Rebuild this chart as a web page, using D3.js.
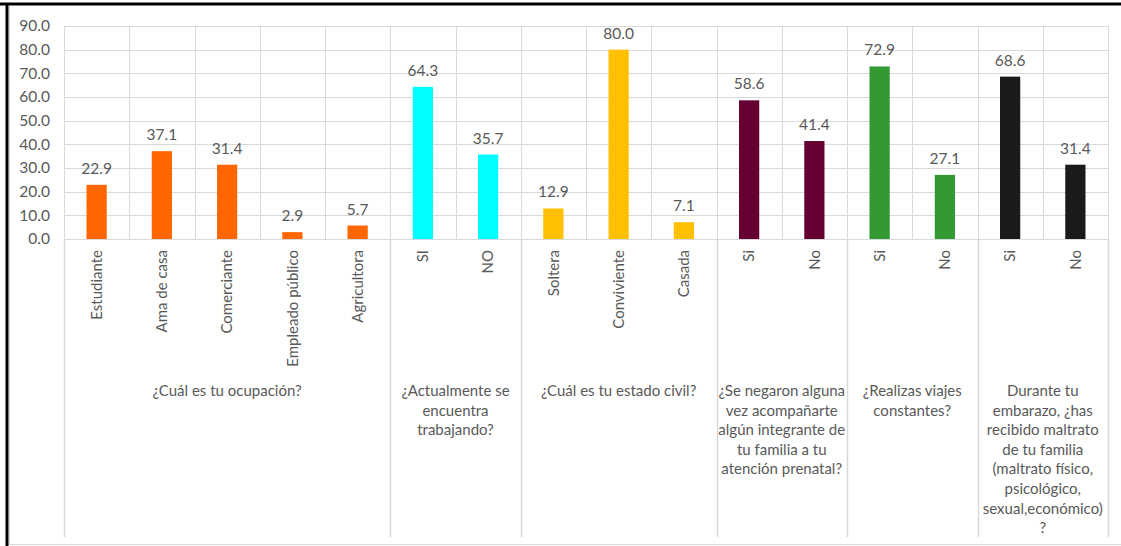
<!DOCTYPE html>
<html>
<head>
<meta charset="utf-8">
<script src="https://cdn.jsdelivr.net/npm/d3@7"></script>
<style>
  html, body { margin: 0; padding: 0; background: #fff; }
  svg { display: block; }
  text { font-family: Lato, "Open Sans", sans-serif; fill: #595959; }
</style>
</head>
<body>
<svg id="chart" width="1121" height="546"></svg>
<script>
// Survey answers (percent of respondents)
const categories = ["Estudiante", "Ama de casa", "Comerciante", "Empleado público", "Agricultora",
                    "SI", "NO",
                    "Soltera", "Conviviente", "Casada",
                    "Si", "No",
                    "Si", "No",
                    "Si", "No"];
const values = [22.9, 37.1, 31.4, 2.9, 5.7,
                64.3, 35.7,
                12.9, 80.0, 7.1,
                58.6, 41.4,
                72.9, 27.1,
                68.6, 31.4];

// Questions: each one covers a run of consecutive categories
const groupSizes = [5, 2, 3, 2, 2, 2];
const groupLabels = [
  ["¿Cuál es tu ocupación?"],
  ["¿Actualmente se", "encuentra", "trabajando?"],
  ["¿Cuál es tu estado civil?"],
  ["¿Se negaron alguna", "vez acompañarte", "algún integrante de", "tu familia a tu", "atención prenatal?"],
  ["¿Realizas viajes", "constantes?"],
  ["Durante tu", "embarazo, ¿has", "recibido maltrato", "de tu familia", "(maltrato físico,", "psicológico,", "sexual,económico)", "?"]
];
const groupColors = ["#FF6600", "#00FFFF", "#FFC000", "#660033", "#339933", "#1A1A1A"];

const yTicks = [0, 10, 20, 30, 40, 50, 60, 70, 80, 90];

const svg = d3.select("#chart");
const W = 1121, H = 546;
const plot = { left: 64, right: 1108, top: 26, bottom: 239 };
const gridColor = "#d9d9d9";

// frame
svg.append("line").attr("x1", 0).attr("x2", W).attr("y1", 4).attr("y2", 4)
  .attr("stroke", "#000").attr("stroke-width", 3);
svg.append("line").attr("x1", 7).attr("x2", 7).attr("y1", 3).attr("y2", H)
  .attr("stroke", "#000").attr("stroke-width", 3);
svg.append("line").attr("x1", 9.5).attr("x2", 9.5).attr("y1", 6).attr("y2", 544.5)
  .attr("stroke", gridColor).attr("stroke-width", 1);
svg.append("line").attr("x1", 9).attr("x2", W).attr("y1", 544.5).attr("y2", 544.5)
  .attr("stroke", gridColor).attr("stroke-width", 1);

// scales
const x = d3.scaleBand().domain(d3.range(categories.length))
  .range([plot.left, plot.right]).padding(0);
const y = d3.scaleLinear().domain([0, 90]).range([plot.bottom, plot.top]);
const barW = x.bandwidth() * 0.31;

// category -> group index
const groupOf = [];
groupSizes.forEach((n, g) => { for (let i = 0; i < n; i++) groupOf.push(g); });
const groupStarts = groupSizes.map((n, g) => d3.sum(groupSizes.slice(0, g)));

// horizontal gridlines
svg.append("g").selectAll("line").data(yTicks).join("line")
  .attr("x1", plot.left).attr("x2", plot.right)
  .attr("y1", d => Math.round(y(d)) + 0.5).attr("y2", d => Math.round(y(d)) + 0.5)
  .attr("stroke", gridColor).attr("stroke-width", 1);

// vertical gridlines at every category boundary inside the plot
const bounds = d3.range(categories.length + 1).map(i =>
  i < categories.length ? x(i) : plot.right);
svg.append("g").selectAll("line").data(bounds).join("line")
  .attr("x1", d => Math.round(d) + 0.5).attr("x2", d => Math.round(d) + 0.5)
  .attr("y1", plot.top).attr("y2", plot.bottom)
  .attr("stroke", gridColor).attr("stroke-width", 1);

// question separators run down through the label area
const groupBounds = groupStarts.map(s => x(s)).concat([plot.right]);
svg.append("g").selectAll("line").data(groupBounds).join("line")
  .attr("x1", d => Math.round(d) + 0.5).attr("x2", d => Math.round(d) + 0.5)
  .attr("y1", plot.bottom).attr("y2", 537)
  .attr("stroke", gridColor).attr("stroke-width", 1.5);

// y axis labels
const yAxis = d3.axisLeft(y).tickValues(yTicks).tickFormat(d3.format(".1f"))
  .tickSize(0).tickPadding(14);
const yg = svg.append("g").attr("transform", `translate(${plot.left},0)`).call(yAxis);
yg.select(".domain").remove();
yg.selectAll("text").attr("font-size", 15.5).attr("fill", "#595959")
  .attr("font-family", "Lato, 'Open Sans', sans-serif");

// bars
svg.append("g").selectAll("rect").data(values).join("rect")
  .attr("x", (d, i) => x(i) + (x.bandwidth() - barW) / 2)
  .attr("width", barW)
  .attr("y", d => y(d))
  .attr("height", d => y(0) - y(d))
  .attr("fill", (d, i) => groupColors[groupOf[i]]);

// value labels
svg.append("g").selectAll("text").data(values).join("text")
  .attr("x", (d, i) => x(i) + x.bandwidth() / 2)
  .attr("y", d => y(d) - 11)
  .attr("text-anchor", "middle")
  .attr("font-size", 15.5)
  .text(d => d.toFixed(1));

// rotated category labels
svg.append("g").selectAll("text").data(categories).join("text")
  .attr("transform", (d, i) => `translate(${x(i) + x.bandwidth() / 2},250) rotate(-90)`)
  .attr("text-anchor", "end")
  .attr("dy", "0.35em")
  .attr("font-size", 15)
  .text(d => d);

// question labels below the categories
const gl = svg.append("g");
groupLabels.forEach((lines, g) => {
  const cx = (groupBounds[g] + groupBounds[g + 1]) / 2;
  const t = gl.append("text").attr("text-anchor", "middle").attr("font-size", 15);
  lines.forEach((ln, k) => {
    t.append("tspan").attr("x", cx).attr("y", 396 + k * 19.6).text(ln);
  });
});
</script>
</body>
</html>
